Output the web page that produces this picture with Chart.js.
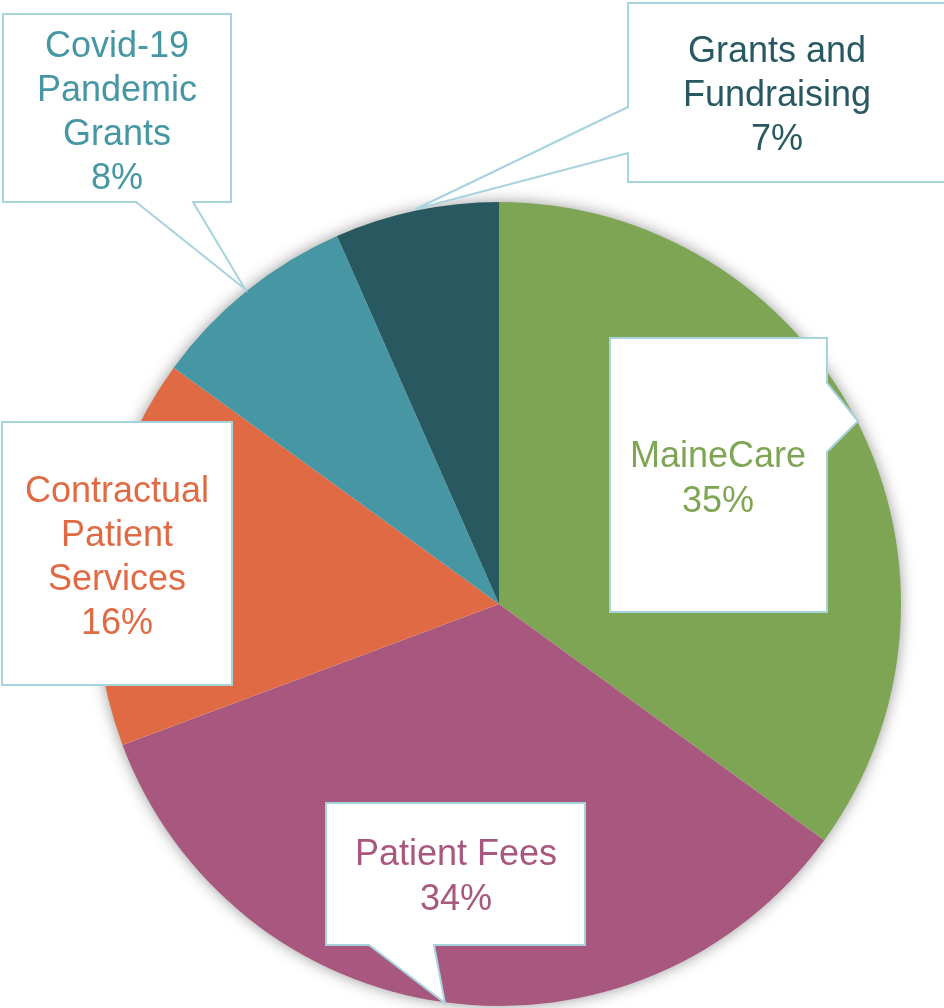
<!DOCTYPE html>
<html>
<head>
<meta charset="utf-8">
<script src="https://cdn.jsdelivr.net/npm/chart.js@4/dist/chart.umd.min.js"></script>
<style>
  html, body { margin: 0; padding: 0; background: #ffffff; }
  #wrap { width: 944px; height: 1008px; position: relative; }
</style>
</head>
<body>
<div id="wrap"><canvas id="c" width="944" height="1008"></canvas></div>
<script>
// ---- data ----
const categories = ['MaineCare', 'Patient Fees', 'Contractual Patient Services', 'Covid-19 Pandemic Grants', 'Grants and Fundraising'];
const values = [35.0, 34.3, 15.7, 8.4, 6.6];
const labelLines = [
  ['MaineCare'],
  ['Patient Fees'],
  ['Contractual', 'Patient', 'Services'],
  ['Covid-19', 'Pandemic', 'Grants'],
  ['Grants and', 'Fundraising']
];
const sliceColors = ['#7ea554', '#a8577e', '#e06a43', '#4696a3', '#285961'];

// ---- callout layout (annotation geometry, not data) ----
const callouts = [
  { cx: 718, baseline: 467, lh: 45,
    path: [[610,338],[827,338],[827,383],[858,421],[827,452],[827,612],[610,612]] },
  { cx: 456, baseline: 865, lh: 45,
    path: [[326,803],[585,803],[585,945],[434,945],[445,1003],[369,945],[326,945]] },
  { cx: 117, baseline: 502, lh: 44,
    path: [[2,422],[232,422],[232,685],[2,685]] },
  { cx: 117, baseline: 57, lh: 44,
    path: [[3,14],[231,14],[231,202],[193,202],[245,289],[136,202],[3,202]] },
  { cx: 777, baseline: 62, lh: 44,
    path: [[628,3],[950,3],[950,182],[628,182],[628,153],[416,209],[628,107]] }
];

const shadowPlugin = {
  id: 'pieShadow',
  beforeDatasetsDraw(chart) {
    const arc = chart.getDatasetMeta(0).data[0];
    if (!arc) return;
    const ctx = chart.ctx;
    ctx.save();
    ctx.shadowColor = 'rgba(0,0,0,0.45)';
    ctx.shadowBlur = 16;
    ctx.shadowOffsetX = 0;
    ctx.shadowOffsetY = 0;
    ctx.fillStyle = '#ffffff';
    ctx.beginPath();
    ctx.arc(arc.x, arc.y, arc.outerRadius - 1, 0, Math.PI * 2);
    ctx.fill();
    ctx.restore();
  }
};

const calloutPlugin = {
  id: 'callouts',
  afterDraw(chart) {
    const ctx = chart.ctx;
    const ds = chart.data.datasets[0];
    const total = ds.data.reduce((a, b) => a + b, 0);
    callouts.forEach((c, i) => {
      ctx.save();
      ctx.beginPath();
      c.path.forEach((p, k) => k ? ctx.lineTo(p[0], p[1]) : ctx.moveTo(p[0], p[1]));
      ctx.closePath();
      ctx.fillStyle = '#ffffff';
      ctx.fill();
      ctx.lineWidth = 2;
      ctx.strokeStyle = '#a6d3dc';
      ctx.lineJoin = 'miter';
      ctx.stroke();
      const lines = labelLines[i].concat([Math.round(ds.data[i] / total * 100) + '%']);
      ctx.fillStyle = ds.backgroundColor[i];
      ctx.font = '36px "Liberation Sans", Arial, sans-serif';
      ctx.textAlign = 'center';
      ctx.textBaseline = 'alphabetic';
      lines.forEach((t, k) => ctx.fillText(t, c.cx, c.baseline + k * c.lh));
      ctx.restore();
    });
  }
};

new Chart(document.getElementById('c'), {
  type: 'pie',
  data: {
    labels: categories,
    datasets: [{
      data: values,
      backgroundColor: sliceColors,
      borderWidth: 0
    }]
  },
  options: {
    responsive: false,
    animation: false,
    layout: { padding: { left: 97, right: 43, top: 202, bottom: 2 } },
    plugins: { legend: { display: false }, tooltip: { enabled: false } }
  },
  plugins: [shadowPlugin, calloutPlugin]
});
</script>
</body>
</html>
